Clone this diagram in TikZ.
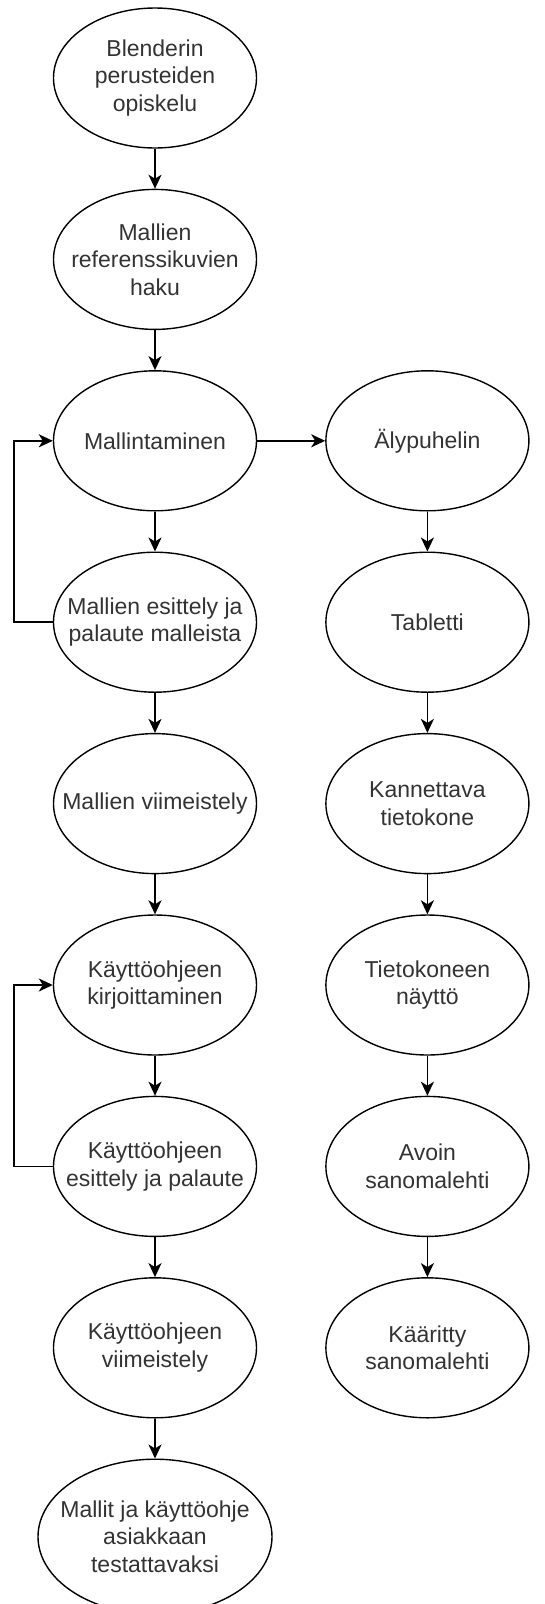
\documentclass[tikz,border=0pt]{standalone}
\usepackage{fontspec}
\setmainfont{Liberation Sans}
\usetikzlibrary{arrows.meta,positioning,shapes.geometric}
\tikzset{%
   vaihe/.style={ellipse, draw=black, line width=1.4pt, text=black!80, align=center,
      inner xsep=-40pt, inner ysep=0pt, minimum width=203pt, minimum height=140pt,
      font=\fontsize{23}{27.6}\selectfont},
   iso/.style={vaihe, minimum width=234pt, minimum height=155pt},
   nuoli/.style={-{Stealth[length=14pt,width=13pt,inset=4pt]}, line width=1.8pt},
}

\begin{document}
\begin{tikzpicture}[x=1pt, y=1pt]
      \useasboundingbox (0,0) rectangle (544,-1604);
      \node[vaihe] (v0) at (155,-78) {Blenderin\\perusteiden\\opiskelu};
      \node[vaihe, below=40pt of v0] (v1) {Mallien\\referenssikuvien\\haku};
      \node[vaihe, below=40pt of v1] (v2) {Mallintaminen};
      \node[vaihe, below=40pt of v2] (v3) {Mallien esittely ja\\palaute malleista};
      \node[vaihe, below=40pt of v3] (v4) {Mallien viimeistely};
      \node[vaihe, below=40pt of v4] (v5) {Käyttöohjeen\\kirjoittaminen};
      \node[vaihe, below=40pt of v5] (v6) {Käyttöohjeen\\esittely ja palaute};
      \node[vaihe, below=40pt of v6] (v7) {Käyttöohjeen\\viimeistely};
      \node[iso, below=40pt of v7] (v8) {Mallit ja käyttöohje\\asiakkaan\\testattavaksi};
      \node[vaihe, right=68pt of v2] (l0) {Älypuhelin};
      \node[vaihe, below=40pt of l0] (l1) {Tabletti};
      \node[vaihe, below=40pt of l1] (l2) {Kannettava\\tietokone};
      \node[vaihe, below=40pt of l2] (l3) {Tietokoneen\\näyttö};
      \node[vaihe, below=40pt of l3] (l4) {Avoin\\sanomalehti};
      \node[vaihe, below=40pt of l4] (l5) {Kääritty\\sanomalehti};
      \draw[nuoli] (v0) -- (v1);
      \draw[nuoli] (v1) -- (v2);
      \draw[nuoli] (v2) -- (v3);
      \draw[nuoli] (v3) -- (v4);
      \draw[nuoli] (v4) -- (v5);
      \draw[nuoli] (v5) -- (v6);
      \draw[nuoli] (v6) -- (v7);
      \draw[nuoli] (v7) -- (v8);
      \draw[nuoli] (v3.west) -- ++(-39,0) |- (v2.west);
      \draw[nuoli] (v6.west) -- ++(-39,0) |- (v5.west);
      \draw[nuoli] (v2) -- (l0);
      \draw[nuoli] (l0) -- (l1);
      \draw[nuoli] (l1) -- (l2);
      \draw[nuoli] (l2) -- (l3);
      \draw[nuoli] (l3) -- (l4);
      \draw[nuoli] (l4) -- (l5);
   \end{tikzpicture}
\end{document}
